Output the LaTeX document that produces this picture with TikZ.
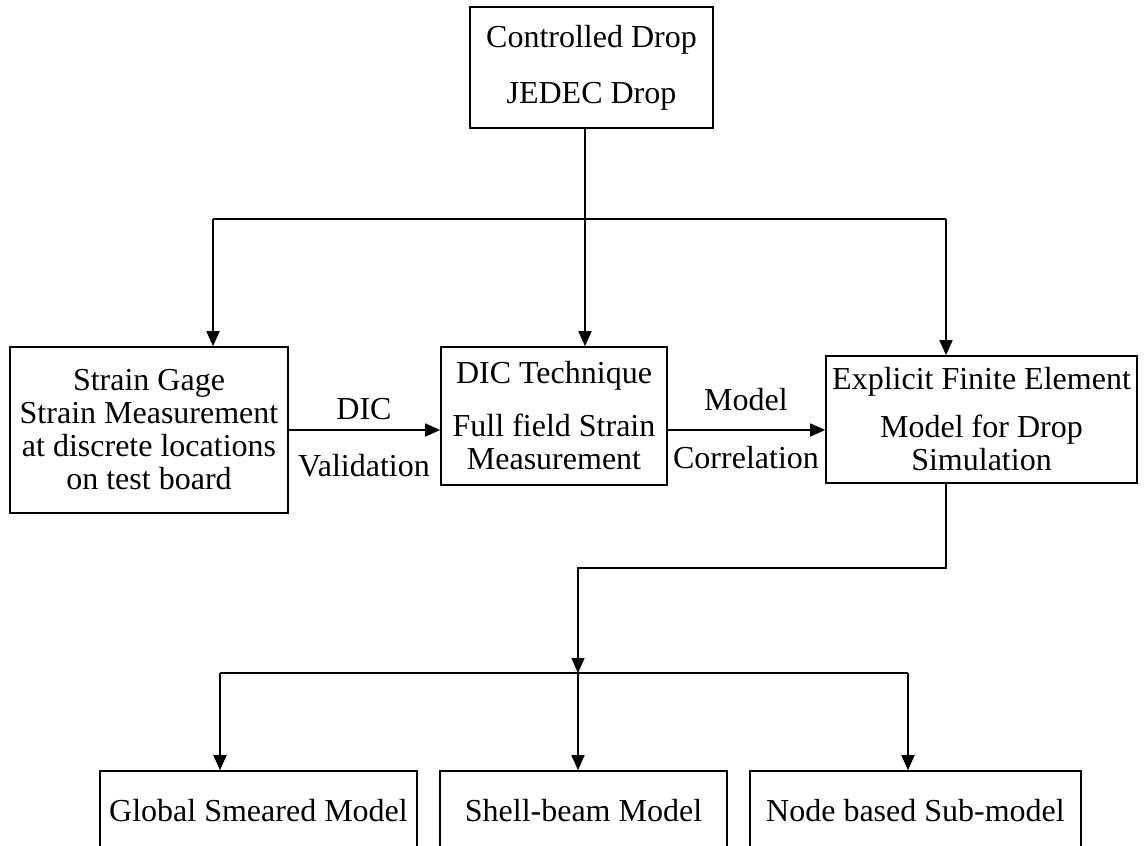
\documentclass[tikz,border=0pt]{standalone}
\usepackage{fontspec}
\setmainfont{Liberation Serif}
\usetikzlibrary{arrows.meta,positioning}

\begin{document}
\begin{tikzpicture}[
  x=1pt, y=-1pt,
  font=\fontsize{32}{33}\selectfont,
  box/.style={draw, line width=1.6pt, align=center, inner sep=0pt},
  lbl/.style={inner sep=0pt},
  wire/.style={line width=1.6pt},
  arr/.style={-{Triangle[length=15pt, width=13pt]}, line width=1.6pt}
]
\clip (0,0) rectangle (1147,845);
% boxes
\node[box, minimum width=243pt, minimum height=121pt] (drop) at (591.5,67.5) {Controlled Drop\\[23pt]JEDEC Drop};
\node[box, minimum width=278pt, minimum height=166pt] (gage) at (149,430) {Strain Gage\\Strain Measurement\\at discrete locations\\on test board};
\node[box, minimum width=226pt, minimum height=138pt] (dic) at (554,416) {DIC Technique\\[20pt]Full field Strain\\Measurement};
\node[box, minimum width=311pt, minimum height=127pt] (fem) at (981.5,419.5) {Explicit Finite Element\\[15pt]Model for Drop\\Simulation};
\node[box, minimum width=317pt, minimum height=80pt] (smear) at (258.5,811) {Global Smeared Model};
\node[box, minimum width=287pt, minimum height=80pt] (shell) at (583.5,811) {Shell-beam Model};
\node[box, minimum width=331pt, minimum height=80pt] (sub) at (915.5,811) {Node based Sub-model};
% arrow labels
\node[lbl] (diclbl) at (364,409) {DIC};
\node[lbl] (vallbl) at (364,466) {Validation};
\node[lbl] (modlbl) at (746,400) {Model};
\node[lbl] (corlbl) at (746,458) {Correlation};
% upper split
\coordinate (split) at (585,219);
\coordinate (splitL) at (213,219);
\coordinate (splitR) at (946,219);
\draw[wire] (drop.south -| split) -- (split);
\draw[wire] (splitL) -- (splitR);
\draw[arr] (splitL) -- (splitL |- gage.north);
\draw[arr] (split) -- (split |- dic.north);
\draw[arr] (splitR) -- (splitR |- fem.north);
% horizontal links
\draw[arr] (gage.east) -- (gage.east -| dic.west);
\draw[arr] (dic.east |- gage.east) -- (fem.west |- gage.east);
% lower split
\coordinate (elbow) at (946,568);
\coordinate (join) at (578,673);
\coordinate (joinL) at (220,673);
\coordinate (joinR) at (908,673);
\draw[arr] (fem.south -| elbow) -- (elbow) -| (join);
\draw[wire] (joinL) -- (joinR);
\draw[arr] (joinL) -- (joinL |- smear.north);
\draw[arr] (join) -- (join |- shell.north);
\draw[arr] (joinR) -- (joinR |- sub.north);
\end{tikzpicture}
\end{document}
